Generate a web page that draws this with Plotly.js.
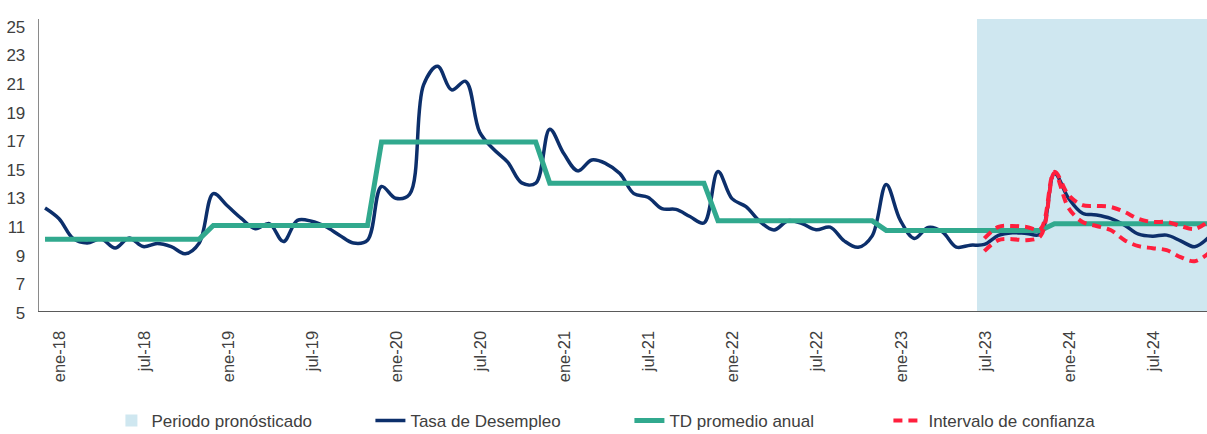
<!DOCTYPE html>
<html>
<head>
<meta charset="utf-8">
<script src="https://cdn.plot.ly/plotly-3.0.1.min.js"></script>
<style>
  html, body { margin: 0; padding: 0; background: #ffffff; }
  #chart { width: 1207px; height: 434px; }
</style>
</head>
<body>
<div id="chart"></div>
<script>
// ---- Data ----
const monthNames = ['ene','feb','mar','abr','may','jun','jul','ago','sep','oct','nov','dic'];
const yearSuffixes = ['18','19','20','21','22','23','24'];

// Tasa de Desempleo, monthly ene-18 .. dic-24
const tasa2018 = [12.2, 11.45, 10.07, 9.75, 10.05, 9.4, 10.1, 9.5, 9.72, 9.5, 9.0, 9.75];
const tasa2019 = [13.2, 12.35, 11.47, 10.75, 11.1, 9.85, 11.33, 11.27, 10.9, 10.3, 9.75, 9.95];
const tasa2020 = [13.7, 12.88, 13.15, 20.8, 22.1, 20.45, 21.05, 17.5, 16.3, 15.4, 13.95, 13.93];
const tasa2021 = [17.7, 16.0, 14.79, 15.55, 15.3, 14.6, 13.2, 12.95, 12.15, 12.1, 11.6, 11.15];
const tasa2022 = [14.75, 12.85, 12.29, 11.24, 10.66, 11.31, 11.1, 10.68, 10.86, 9.9, 9.45, 10.25];
const tasa2023 = [13.84, 11.35, 10.07, 10.84, 10.54, 9.47, 9.6, 9.65, 10.28, 10.47, 10.42, 10.37];
const tasa2024 = [14.6, 12.88, 11.83, 11.71, 11.47, 11.0, 10.37, 10.23, 10.3, 9.9, 9.49, 10.14];

// TD promedio anual (one value per year, 2018..2024)
const tdPromedioAnual = [10.02, 10.97, 16.8, 13.93, 11.3, 10.63, 11.1];

// Intervalo de confianza, ago-23 .. dic-24
const forecastStart = 'ago-23';
const intervaloSuperior = [10.07, 10.87, 10.94, 10.87, 10.73, 14.72, 13.1, 12.4, 12.34, 12.27, 11.92, 11.43, 11.22, 11.22, 10.94, 10.73, 11.29];
const intervaloInferior = [9.18, 9.95, 10.02, 9.95, 10.23, 14.65, 12.2, 11.22, 10.94, 10.66, 9.95, 9.53, 9.39, 9.25, 8.76, 8.48, 9.04];

// Axis ticks
const tickLabels = ['ene-18','jul-18','ene-19','jul-19','ene-20','jul-20','ene-21','jul-21',
                    'ene-22','jul-22','ene-23','jul-23','ene-24','jul-24'];
const yTicks = [5, 7, 9, 11, 13, 15, 17, 19, 21, 23, 25];

// ---- Build series ----
const categories = [];
yearSuffixes.forEach(y => monthNames.forEach(m => categories.push(m + '-' + y)));
const tasa = [].concat(tasa2018, tasa2019, tasa2020, tasa2021, tasa2022, tasa2023, tasa2024);
const tdMensual = [];
tdPromedioAnual.forEach(v => monthNames.forEach(() => tdMensual.push(v)));
const fIdx = categories.indexOf(forecastStart);
const forecastCats = categories.slice(fIdx);

const yMin = 5, yMax = 25.4;

const traces = [
  {
    type: 'bar', name: 'Periodo pronósticado',
    x: forecastCats, y: forecastCats.map(() => yMax), width: 1,
    marker: { color: '#cfe7f0', line: { width: 0 } },
    hoverinfo: 'skip'
  },
  {
    type: 'scatter', mode: 'lines', name: 'Tasa de Desempleo',
    x: categories, y: tasa,
    line: { color: '#0c2f6b', width: 3.5, shape: 'spline', smoothing: 1 }
  },
  {
    type: 'scatter', mode: 'lines', name: 'TD promedio anual',
    x: categories, y: tdMensual,
    line: { color: '#31a98e', width: 5 }
  },
  {
    type: 'scatter', mode: 'lines', name: 'Intervalo de confianza',
    x: forecastCats, y: intervaloSuperior, legendgroup: 'ic',
    line: { color: '#ff1f3d', width: 4, dash: '9px,6px', shape: 'spline', smoothing: 1 }
  },
  {
    type: 'scatter', mode: 'lines', name: 'Intervalo de confianza',
    x: forecastCats, y: intervaloInferior, legendgroup: 'ic', showlegend: false,
    line: { color: '#ff1f3d', width: 4, dash: '9px,6px', shape: 'spline', smoothing: 1 }
  }
];

const fontFam = '"Liberation Sans", Arial, sans-serif';
const layout = {
  width: 1207, height: 434,
  margin: { l: 39, r: 0, t: 19, b: 123, pad: 0 },
  paper_bgcolor: '#ffffff', plot_bgcolor: 'rgba(0,0,0,0)',
  bargap: 0,
  showlegend: true,
  font: { family: fontFam, color: '#404040' },
  xaxis: {
    type: 'category', categoryorder: 'array', categoryarray: categories,
    range: [-0.43, 82.88], autorange: false,
    tickmode: 'array', tickvals: tickLabels, ticktext: tickLabels,
    tickangle: -90, ticks: '', showgrid: false, zeroline: false,
    showline: true, linecolor: '#5a5a5a', linewidth: 1.3,
    tickfont: { family: fontFam, size: 16.5, color: '#404040' },
    ticklabelshift: 15, ticklabelstandoff: 12,
    automargin: false, fixedrange: true
  },
  yaxis: {
    range: [yMin, yMax], autorange: false,
    tickmode: 'array', tickvals: yTicks, ticktext: yTicks.map(String),
    ticks: '', showgrid: false, zeroline: false,
    showline: true, linecolor: '#8a8a8a', linewidth: 1.3,
    tickfont: { family: fontFam, size: 17, color: '#404040' },
    ticklabelshift: 2, ticklabelstandoff: 9,
    automargin: false, fixedrange: true
  },
  legend: {
    orientation: 'h', x: 0.062, xanchor: 'left',
    yref: 'container', y: 0.03, yanchor: 'middle',
    font: { family: fontFam, size: 17, color: '#404040' },
    itemwidth: 30, entrywidth: 214, entrywidthmode: 'pixels',
    bgcolor: 'rgba(0,0,0,0)', borderwidth: 0,
    traceorder: 'normal'
  }
};

Plotly.newPlot('chart', traces, layout, { displayModeBar: false, staticPlot: true });
</script>
</body>
</html>
